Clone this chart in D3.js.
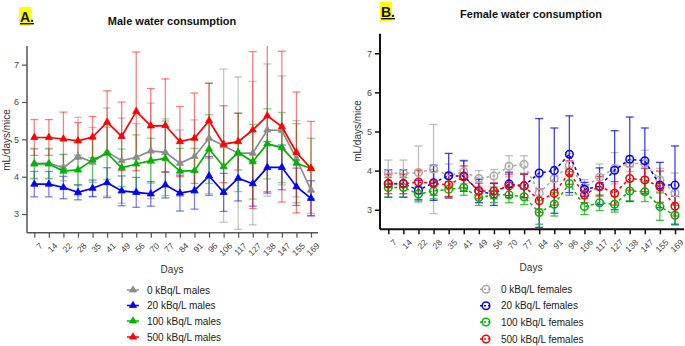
<!DOCTYPE html>
<html>
<head>
<meta charset="utf-8">
<script src="https://cdn.jsdelivr.net/npm/d3@7"></script>
<style>
  body { margin: 0; background: #fff; }
  svg { font-family: "Liberation Sans", Arial, sans-serif; }
</style>
</head>
<body>
<svg id="chart" width="685" height="346"></svg>
<script>
const days = ["7", "14", "22", "28", "35", "41", "49", "56", "70", "77", "84", "91", "96", "106", "117", "127", "138", "147", "155", "169"];
const yTicks = [3, 4, 5, 6, 7];

// males (mean, SD)
const male0 = [4.36, 4.36, 4.24, 4.54, 4.39, 4.66, 4.43, 4.52, 4.69, 4.65, 4.36, 4.54, 5.03, 4.83, 4.63, 4.63, 5.25, 5.24, 4.48, 3.64];
const male0Err = [0.4, 0.4, 0.35, 1.05, 0.93, 1.18, 1.14, 0.9, 1.28, 0.9, 0.89, 0.98, 1.48, 2.05, 2.04, 1.92, 1.77, 1.46, 1.02, 0.62];
const male20 = [3.8, 3.8, 3.71, 3.58, 3.69, 3.84, 3.62, 3.58, 3.54, 3.78, 3.56, 3.63, 4.02, 3.58, 3.96, 3.81, 4.25, 4.25, 3.73, 3.42];
const male20Err = [0.34, 0.34, 0.3, 0.2, 0.22, 0.4, 0.4, 0.4, 0.33, 0.35, 0.48, 0.5, 0.52, 0.51, 0.61, 0.6, 0.69, 0.6, 0.5, 0.47];
const male100 = [4.34, 4.34, 4.15, 4.18, 4.45, 4.63, 4.24, 4.34, 4.43, 4.49, 4.15, 4.16, 4.74, 4.27, 4.65, 4.4, 4.88, 4.78, 4.36, 4.22];
const male100Err = [0.4, 0.4, 0.45, 0.4, 0.6, 0.7, 0.5, 0.78, 0.6, 1.0, 0.61, 0.6, 0.92, 0.6, 1.05, 1.0, 0.94, 0.94, 1.06, 0.81];
const male500 = [5.05, 5.05, 5.01, 4.96, 5.06, 5.46, 5.08, 5.75, 5.36, 5.37, 4.94, 5.03, 5.5, 4.87, 4.94, 5.25, 5.63, 5.34, 4.65, 4.22];
const male500Err = [0.48, 0.48, 0.72, 0.49, 0.55, 0.84, 0.92, 1.59, 1.0, 1.25, 0.94, 1.21, 1.0, 1.03, 0.76, 2.1, 2.03, 2.02, 1.62, 1.26];

// females (mean, SD)
const female0 = [3.93, 3.93, 3.95, 4.04, 3.87, 3.97, 3.8, 3.86, 4.11, 4.16, 3.43, 3.8, 4.14, 3.57, 3.83, 4.06, 4.18, 4.18, 3.76, 3.43];
const female0Err = [0.34, 0.34, 0.68, 1.14, 0.3, 0.3, 0.2, 0.17, 0.27, 0.22, 0.4, 0.3, 0.3, 0.2, 0.34, 0.4, 0.2, 0.34, 0.3, 0.51];
const female20 = [3.67, 3.67, 3.5, 3.69, 3.87, 3.86, 3.48, 3.39, 3.66, 3.61, 3.94, 4.0, 4.42, 3.52, 3.6, 4.01, 4.29, 4.25, 3.63, 3.63];
const female20Err = [0.35, 0.35, 0.25, 0.45, 0.57, 0.39, 0.3, 0.28, 0.3, 0.3, 1.39, 1.09, 0.98, 0.18, 0.47, 1.01, 1.08, 0.84, 0.58, 1.0];
const female100 = [3.57, 3.57, 3.4, 3.48, 3.52, 3.57, 3.31, 3.38, 3.38, 3.33, 2.93, 3.14, 3.67, 3.08, 3.18, 3.14, 3.48, 3.46, 3.08, 2.86];
const female100Err = [0.25, 0.25, 0.2, 0.2, 0.2, 0.2, 0.2, 0.2, 0.2, 0.2, 0.3, 0.3, 0.3, 0.2, 0.2, 0.2, 0.25, 0.25, 0.35, 0.25];
const female500 = [3.66, 3.66, 3.71, 3.67, 3.64, 3.84, 3.48, 3.48, 3.61, 3.61, 3.23, 3.42, 3.95, 3.38, 3.6, 3.42, 3.8, 3.76, 3.59, 3.09];
const female500Err = [0.25, 0.25, 0.3, 0.3, 0.3, 0.28, 0.2, 0.2, 0.3, 0.3, 0.3, 0.3, 0.3, 0.2, 0.25, 0.3, 0.3, 0.3, 0.4, 0.25];

const maleLabels = ["0 kBq/L males", "20 kBq/L males", "100 kBq/L males", "500 kBq/L males"];
const femaleLabels = ["0 kBq/L females", "20 kBq/L females", "100 kBq/L females", "500 kBq/L females"];
const colors = ["#8c8c8c", "#0000ff", "#00b400", "#ff0000"];
const femaleColors = ["#aaaaaa", "#0000ff", "#00b400", "#ff0000"];

const svg = d3.select("#chart");

const drawMarker = (sel, cx, cy, c, female) => {
  if (female) {
    sel.append("circle").attr("cx", cx).attr("cy", cy).attr("r", 3.8)
      .attr("fill", "none").attr("stroke", c).attr("stroke-width", 1.5);
  } else {
    sel.append("path")
      .attr("d", d3.symbol(d3.symbolTriangle, 22)())
      .attr("transform", `translate(${cx},${cy})`)
      .attr("fill", c).attr("stroke", c).attr("stroke-width", 0.8);
  }
};

const makePanel = (opts) => {
  const { x0, x1, xFirst, xLast, yTop, yBottom, series, errs, cols, female, axisColor } = opts;

  const x = d3.scalePoint().domain(days).range([xFirst, xLast]);
  const y = d3.scaleLinear().domain([2.5, 7.5]).range([yBottom, yTop]);
  const g = svg.append("g");

  // axes
  const yAxis = g.append("g")
    .attr("transform", `translate(${x0},0)`)
    .call(d3.axisLeft(y).tickValues(yTicks).tickFormat(d3.format("d")).tickSize(5).tickPadding(3).tickSizeOuter(0));
  const xAxis = g.append("g")
    .attr("transform", `translate(0,${yBottom})`)
    .call(d3.axisBottom(x).tickSize(5).tickSizeOuter(0));
  // baseline runs to the panel edge
  xAxis.select(".domain").attr("d", `M${x0},0H${x1}`);
  yAxis.select(".domain").attr("d", `M0,${yTop}V${yBottom}`);
  [xAxis, yAxis].forEach((a) => {
    a.select(".domain").attr("stroke", axisColor).attr("stroke-width", female ? 2 : 1.5);
    a.selectAll(".tick line").attr("stroke", axisColor).attr("stroke-width", female ? 1.5 : 1.2);
    a.selectAll("text").attr("fill", "#444").style("font-size", "9px").style("font-family", "Liberation Sans, Arial, sans-serif");
  });
  xAxis.selectAll(".tick text")
    .attr("text-anchor", "end")
    .attr("dy", 0)
    .attr("transform", "translate(3,8) rotate(-45)")
    .style("font-size", "8.5px");

  // error bars
  series.forEach((vals, s) => {
    const c = cols[s];
    const eg = g.append("g").attr("stroke", c).attr("stroke-opacity", female ? 0.75 : 0.5).attr("stroke-width", 1.3);
    vals.forEach((v, i) => {
      const cx = x(days[i]);
      const lo = Math.max(2.5, v - errs[s][i]);
      const hi = Math.min(7.5, v + errs[s][i]);
      eg.append("line").attr("x1", cx).attr("x2", cx).attr("y1", y(lo)).attr("y2", y(hi));
      if (v + errs[s][i] <= 7.5)
        eg.append("line").attr("x1", cx - 4).attr("x2", cx + 4).attr("y1", y(hi)).attr("y2", y(hi));
      if (v - errs[s][i] >= 2.5)
        eg.append("line").attr("x1", cx - 4).attr("x2", cx + 4).attr("y1", y(lo)).attr("y2", y(lo));
    });
  });

  // lines + markers
  const line = d3.line().x((d, i) => x(days[i])).y((d) => y(d));
  series.forEach((vals, s) => {
    const c = cols[s];
    g.append("path")
      .datum(vals)
      .attr("d", line)
      .attr("fill", "none")
      .attr("stroke", c)
      .attr("stroke-width", female ? 1.5 : 1.7)
      .attr("stroke-dasharray", female ? "3,3" : null);
    const mg = g.append("g");
    vals.forEach((v, i) => drawMarker(mg, x(days[i]), y(v), c, female));
  });
};

// left panel (males)
makePanel({
  x0: 27, x1: 318, xFirst: 34.3, xLast: 311, yTop: 46, yBottom: 232.7,
  series: [male0, male20, male100, male500],
  errs: [male0Err, male20Err, male100Err, male500Err],
  cols: colors, female: false, axisColor: "#555"
});

// right panel (females)
makePanel({
  x0: 380, x1: 684, xFirst: 388.3, xLast: 675, yTop: 33.7, yBottom: 229.3,
  series: [female0, female20, female100, female500],
  errs: [female0Err, female20Err, female100Err, female500Err],
  cols: femaleColors, female: true, axisColor: "#111"
});

// panel letters
const letter = (x, yBase, txt) => {
  svg.append("rect").attr("x", x - 1).attr("y", yBase - 15).attr("width", 12).attr("height", 19).attr("fill", "#ffff00");
  svg.append("text").attr("x", x).attr("y", yBase).text(txt)
    .attr("font-size", "14px").attr("font-weight", "bold").attr("fill", "#111")
    .attr("text-decoration", "underline");
};
letter(20, 22, "A.");
letter(381, 17, "B.");

// titles
svg.append("text").attr("x", 172).attr("y", 25).attr("text-anchor", "middle")
  .attr("font-size", "11px").attr("font-weight", "bold").attr("fill", "#111")
  .text("Male water consumption");
svg.append("text").attr("x", 531).attr("y", 18).attr("text-anchor", "middle")
  .attr("font-size", "11px").attr("font-weight", "bold").attr("fill", "#111")
  .text("Female water consumption");

// axis titles
svg.append("text").attr("transform", "translate(10,140) rotate(-90)").attr("text-anchor", "middle")
  .attr("font-size", "10px").attr("fill", "#333").text("mL/days/mice");
svg.append("text").attr("transform", "translate(361,131) rotate(-90)").attr("text-anchor", "middle")
  .attr("font-size", "10px").attr("fill", "#333").text("mL/days/mice");
svg.append("text").attr("x", 172).attr("y", 273).attr("text-anchor", "middle")
  .attr("font-size", "10px").attr("fill", "#333").text("Days");
svg.append("text").attr("x", 531).attr("y", 271).attr("text-anchor", "middle")
  .attr("font-size", "10px").attr("fill", "#333").text("Days");

// legends
const legend = (lx, tx, rows, labels, cols, female) => {
  labels.forEach((lab, i) => {
    const ly = rows[i];
    svg.append("line").attr("x1", lx - 6).attr("x2", lx + 6).attr("y1", ly).attr("y2", ly)
      .attr("stroke", cols[i]).attr("stroke-width", 1.5)
      .attr("stroke-dasharray", female ? "2,2" : null);
    drawMarker(svg, lx, ly, cols[i], female);
    svg.append("text").attr("x", tx).attr("y", ly + 3.5).attr("font-size", "10px")
      .attr("fill", "#222").text(lab);
  });
};
legend(133, 147, [290, 305.5, 321, 337], maleLabels, colors, false);
legend(486, 501, [289.3, 305.7, 322, 339], femaleLabels, femaleColors, true);
</script>
</body>
</html>
